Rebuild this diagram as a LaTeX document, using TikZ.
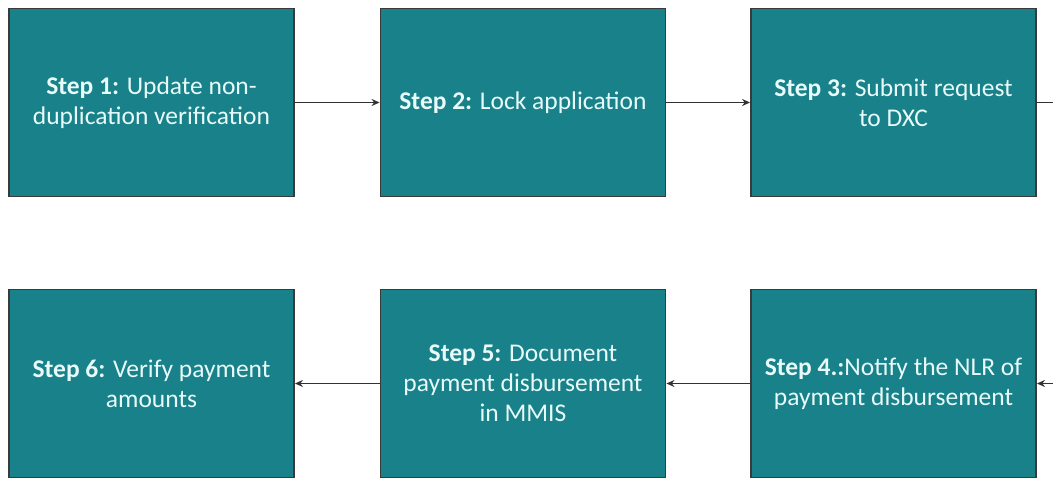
\documentclass[tikz,border=0pt]{standalone}
\usepackage{fontspec}
\setmainfont{Carlito}
\usetikzlibrary{arrows.meta}
\definecolor{tealfill}{RGB}{24,129,137}
\definecolor{boxedge}{RGB}{58,58,58}
\definecolor{boxtext}{RGB}{232,250,250}
\definecolor{linkgray}{RGB}{50,50,50}
\begin{document}
\begin{tikzpicture}[x=1pt,y=-1pt,
  stepbox/.style={draw=boxedge, line width=1.9pt, fill=tealfill,
    minimum width=285pt, minimum height=188pt, inner sep=0pt,
    text=boxtext, align=center,
    font=\fontsize{25.5}{30}\selectfont},
  link/.style={draw=linkgray, line width=1.8pt,
    -{Stealth[length=8pt,width=7pt]}}]
  \useasboundingbox (0,0) rectangle (1053,478);
  % top row, left to right
  \node[stepbox] (s1) at (151.5,102.5) {\textbf{Step 1:} Update non-\\duplication verification};
  \node[stepbox] (s2) at (523,102.5) {\textbf{Step 2:} Lock application};
  \node[stepbox] (s3) at (893.5,102.5) {\textbf{Step 3:} Submit request\\to DXC};
  % bottom row, right to left
  \node[stepbox] (s4) at (893.5,383.5) {\textbf{Step 4.:}Notify the NLR of\\payment disbursement};
  \node[stepbox] (s5) at (523,383.5) {\textbf{Step 5:} Document\\payment disbursement\\in MMIS};
  \node[stepbox] (s6) at (151.5,383.5) {\textbf{Step 6:} Verify payment\\amounts};
  % loose ends at the right margin
  \coordinate (out3) at (1060,102.5);
  \coordinate (in4) at (1060,383.5);
  % connectors
  \draw[link] (s1) -- (s2);
  \draw[link] (s2) -- (s3);
  \draw[draw=linkgray, line width=1.8pt] (s3) -- (out3);
  \draw[link] (in4) -- (s4);
  \draw[link] (s4) -- (s5);
  \draw[link] (s5) -- (s6);
\end{tikzpicture}
\end{document}
